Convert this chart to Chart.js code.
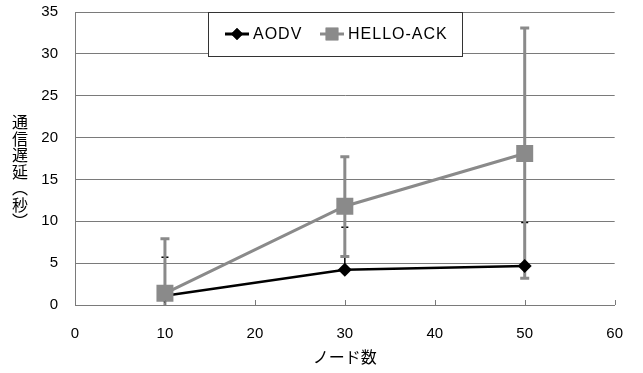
<!DOCTYPE html>
<html>
<head>
<meta charset="utf-8">
<script src="https://cdn.jsdelivr.net/npm/chart.js@4"></script>
<style>
html, body { margin: 0; padding: 0; background: #fff; }
</style>
</head>
<body>
<canvas id="myChart" width="643" height="373"></canvas>
<script>
// data
const nodes = [10, 30, 50];
const aodv = [1.1, 4.2, 4.65];
const helloAck = [1.4, 11.8, 18.1];
const aodvErrPlus = [4.6, 5.1, 5.2];
const aodvErrMinus = [0, 0, 0];
const helloAckErrPlus = [6.5, 5.9, 15.0];
const helloAckErrMinus = [6.5, 6.0, 14.9];
const seriesNames = ['AODV', 'HELLO-ACK'];
const xTitle = 'ノード数';
const yTitle = ['通', '信', '遅', '延', '︵', '秒', '︶'];

const GREY = '#8a8a8a';
const AXIS = '#7a7a7a';
const JP = "'Noto Sans CJK JP', sans-serif";

Chart.defaults.font.family = "'Liberation Sans', Arial, sans-serif";
Chart.defaults.font.size = 15;
Chart.defaults.color = '#000';

// error bars, drawn under the markers
const errorBars = {
    id: 'errorBars',
    beforeDatasetsDraw(chart) {
        const { ctx, chartArea, scales: { x, y } } = chart;
        ctx.save();
        ctx.beginPath();
        ctx.rect(chartArea.left, chartArea.top - 2, chartArea.width, chartArea.height + 2);
        ctx.clip();
        chart.data.datasets.forEach(ds => {
            ctx.strokeStyle = ds.errColor;
            ctx.lineWidth = ds.errWidth;
            ds.data.forEach((p, i) => {
                const px = x.getPixelForValue(p.x);
                const hi = y.getPixelForValue(p.y + ds.errPlus[i]);
                const lo = y.getPixelForValue(p.y - ds.errMinus[i]);
                const c = ds.capWidth / 2;
                ctx.beginPath();
                ctx.moveTo(px, hi); ctx.lineTo(px, lo);
                ctx.moveTo(px - c, hi); ctx.lineTo(px + c, hi);
                if (ds.errMinus[i] > 0) {
                    ctx.moveTo(px - c, lo); ctx.lineTo(px + c, lo);
                }
                ctx.stroke();
            });
        });
        ctx.restore();
    }
};

// legend box, y title, inward x ticks
const extras = {
    id: 'extras',
    afterDraw(chart) {
        const { ctx, chartArea, scales: { x } } = chart;
        ctx.save();

        ctx.strokeStyle = AXIS;
        ctx.lineWidth = 1;
        [10, 20, 30, 40, 50, 60].forEach(v => {
            const px = Math.round(x.getPixelForValue(v)) + 0.5;
            ctx.beginPath();
            ctx.moveTo(px, chartArea.bottom);
            ctx.lineTo(px, chartArea.bottom - 5);
            ctx.stroke();
        });

        ctx.font = '16px ' + JP;
        ctx.fillStyle = '#000';
        ctx.textAlign = 'center';
        ctx.textBaseline = 'middle';
        yTitle.forEach((ch, i) => ctx.fillText(ch, 20, 122 + i * 16.5));

        // legend
        const bx = 208, by = 12, bw = 254, bh = 44;
        ctx.fillStyle = '#fff';
        ctx.fillRect(bx, by, bw, bh);
        ctx.strokeStyle = '#333';
        ctx.strokeRect(bx + 0.5, by + 0.5, bw, bh);
        const cy = by + bh / 2;
        const items = [
            { x: 225, tx: 253, color: '#000', style: 'rectRot', r: 6 },
            { x: 320, tx: 348, color: GREY, style: 'rect', r: 9 }
        ];
        ctx.font = "16px 'Liberation Sans', Arial, sans-serif";
        ctx.letterSpacing = '1px';
        ctx.textAlign = 'left';
        items.forEach((it, i) => {
            ctx.strokeStyle = it.color;
            ctx.lineWidth = 3;
            ctx.beginPath();
            ctx.moveTo(it.x, cy); ctx.lineTo(it.x + 24, cy);
            ctx.stroke();
            ctx.fillStyle = it.color;
            Chart.helpers.drawPoint(ctx, { pointStyle: it.style, radius: it.r, borderWidth: 0 }, it.x + 12, cy);
            ctx.fill();
            ctx.fillStyle = '#000';
            ctx.fillText(seriesNames[i], it.tx, cy + 1);
        });
        ctx.restore();
    }
};

new Chart(document.getElementById('myChart'), {
    type: 'line',
    data: {
        datasets: [{
            label: seriesNames[0],
            data: nodes.map((n, i) => ({ x: n, y: aodv[i] })),
            errPlus: aodvErrPlus,
            errMinus: aodvErrMinus,
            errColor: '#000', errWidth: 1.5, capWidth: 7,
            borderColor: '#000',
            backgroundColor: '#000',
            borderWidth: 2.5,
            pointStyle: 'rectRot',
            pointRadius: 7,
            pointBorderWidth: 0,
            order: 1
        }, {
            label: seriesNames[1],
            data: nodes.map((n, i) => ({ x: n, y: helloAck[i] })),
            errPlus: helloAckErrPlus,
            errMinus: helloAckErrMinus,
            errColor: GREY, errWidth: 3, capWidth: 9,
            borderColor: GREY,
            backgroundColor: GREY,
            borderWidth: 3,
            pointStyle: 'rect',
            pointRadius: 12,
            pointBorderWidth: 0,
            order: 0
        }]
    },
    options: {
        responsive: false,
        animation: false,
        layout: { padding: { left: 0, right: 26, top: 11, bottom: 0 } },
        plugins: { legend: { display: false }, tooltip: { enabled: false } },
        scales: {
            x: {
                type: 'linear',
                min: 0, max: 60,
                ticks: { stepSize: 10, padding: 20, maxRotation: 0 },
                grid: { drawOnChartArea: false, drawTicks: false },
                border: { color: AXIS, width: 1 },
                title: { display: true, text: xTitle, font: { family: JP, size: 16 }, padding: { top: 0, bottom: 6 } },
                afterFit(scale) { scale.height = 68; }
            },
            y: {
                min: 0, max: 35,
                ticks: { stepSize: 5, padding: 0 },
                grid: { color: AXIS, drawTicks: true, tickLength: 17, tickColor: 'rgba(0,0,0,0)' },
                border: { color: AXIS, width: 1 },
                afterFit(scale) { scale.width = 75; }
            }
        }
    },
    plugins: [errorBars, extras]
});
</script>
</body>
</html>
